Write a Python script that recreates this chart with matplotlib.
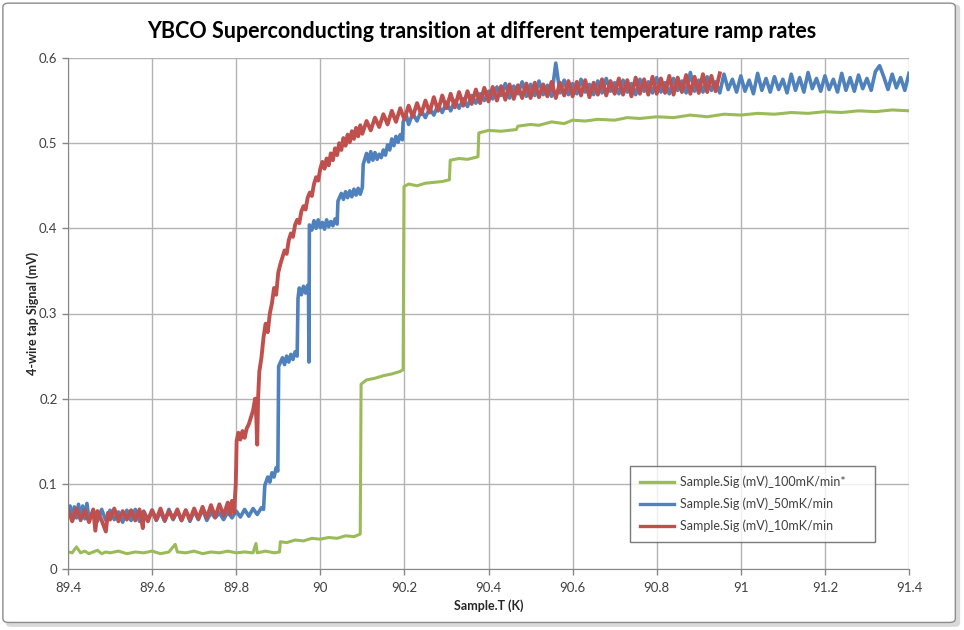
import matplotlib
matplotlib.use('Agg')
import matplotlib.pyplot as plt
from matplotlib.patches import FancyBboxPatch

plt.rcParams['font.family'] = ['Lato', 'DejaVu Sans']

# --- data (temperature in K, signal in mV) ---
green_T = [89.40, 89.41, 89.42, 89.43, 89.44, 89.45, 89.46, 89.47, 89.48, 89.49, 89.50,
           89.52, 89.54, 89.56, 89.58, 89.60, 89.62, 89.64, 89.655, 89.66, 89.68, 89.70,
           89.72, 89.74, 89.76, 89.78, 89.80, 89.82, 89.84, 89.847, 89.85, 89.87, 89.89, 89.903,
           89.905, 89.92, 89.94, 89.96, 89.98, 90.00, 90.02, 90.04, 90.06, 90.08, 90.095,
           90.097, 90.11, 90.13, 90.15, 90.17, 90.19, 90.197,
           90.199, 90.21, 90.23, 90.25, 90.27, 90.29, 90.307,
           90.309, 90.33, 90.35, 90.375,
           90.377, 90.40, 90.43, 90.466,
           90.47, 90.50, 90.52, 90.55, 90.58, 90.60, 90.63, 90.66, 90.70, 90.73, 90.76, 90.80,
           90.84, 90.88, 90.92, 90.96, 91.00, 91.04, 91.08, 91.12, 91.16, 91.20, 91.24, 91.28,
           91.32, 91.36, 91.40]
green_sig = [0.020, 0.019, 0.026, 0.019, 0.021, 0.018, 0.020, 0.022, 0.018, 0.020, 0.019,
             0.021, 0.018, 0.020, 0.019, 0.021, 0.018, 0.020, 0.029, 0.020, 0.019, 0.021,
             0.018, 0.020, 0.019, 0.021, 0.019, 0.020, 0.019, 0.030, 0.019, 0.021, 0.019, 0.020,
             0.032, 0.031, 0.034, 0.033, 0.036, 0.035, 0.037, 0.036, 0.039, 0.038, 0.041,
             0.217, 0.222, 0.224, 0.227, 0.229, 0.232, 0.234,
             0.449, 0.452, 0.450, 0.453, 0.454, 0.455, 0.457,
             0.480, 0.482, 0.481, 0.484,
             0.512, 0.515, 0.514, 0.516,
             0.520, 0.522, 0.521, 0.525, 0.523, 0.527, 0.526, 0.528, 0.527, 0.530, 0.529, 0.531,
             0.530, 0.533, 0.531, 0.534, 0.533, 0.535, 0.534, 0.536, 0.535, 0.537, 0.536, 0.538,
             0.537, 0.539, 0.538]

blue_T = [89.40, 89.405, 89.41, 89.415, 89.42, 89.425, 89.43, 89.435, 89.44, 89.445, 89.45,
          89.46, 89.47, 89.48, 89.49, 89.50, 89.51, 89.52, 89.53, 89.54, 89.55, 89.56, 89.57,
          89.58, 89.59, 89.60, 89.61, 89.62, 89.63, 89.64, 89.65, 89.66, 89.67, 89.68, 89.69,
          89.70, 89.71, 89.72, 89.73, 89.74,
          89.75, 89.76, 89.77, 89.78, 89.79, 89.80, 89.81, 89.82, 89.83, 89.84, 89.85, 89.86, 89.865,
          89.868, 89.875, 89.88, 89.885, 89.89, 89.895, 89.899,
          89.901, 89.91, 89.915, 89.92, 89.925, 89.93, 89.935, 89.94, 89.945,
          89.947, 89.95, 89.955, 89.96, 89.965, 89.97, 89.972, 89.973,
          89.974, 89.98, 89.985, 89.99, 89.995, 90.00, 90.005, 90.01, 90.015, 90.02, 90.025,
          90.03, 90.035, 90.04,
          90.042, 90.05, 90.055, 90.06, 90.065, 90.07, 90.075, 90.08, 90.085, 90.09, 90.095, 90.10,
          90.102, 90.11, 90.115, 90.12, 90.125, 90.13, 90.135, 90.14, 90.145, 90.15, 90.155,
          90.16, 90.165, 90.17, 90.175, 90.18, 90.185, 90.19, 90.195,
          90.197, 90.205, 90.21, 90.22, 90.23, 90.24, 90.25, 90.26, 90.27, 90.28, 90.29, 90.30,
          90.31, 90.32, 90.33, 90.34, 90.35, 90.36, 90.37, 90.38, 90.39,
          90.40, 90.41, 90.42, 90.43, 90.44, 90.45, 90.46, 90.47, 90.48, 90.49,
          90.50, 90.51, 90.52, 90.53, 90.54, 90.55, 90.56, 90.57, 90.58, 90.59,
          90.60, 90.61, 90.62, 90.63, 90.64, 90.65, 90.66, 90.67, 90.68, 90.69,
          90.70, 90.71, 90.72, 90.73, 90.74, 90.75, 90.76, 90.77, 90.78, 90.79,
          90.80, 90.81, 90.82, 90.83, 90.84, 90.85, 90.86, 90.87, 90.88, 90.89,
          90.90, 90.91, 90.92, 90.93, 90.94, 90.95, 90.96, 90.97, 90.98, 90.99,
          91.00, 91.01, 91.02, 91.03, 91.04, 91.05, 91.06, 91.07, 91.08, 91.09,
          91.10, 91.11, 91.12, 91.13, 91.14, 91.15, 91.16, 91.17, 91.18, 91.19,
          91.20, 91.21, 91.22, 91.23, 91.24, 91.25, 91.26, 91.27, 91.28, 91.29,
          91.30, 91.31, 91.32, 91.33, 91.34, 91.35, 91.36, 91.37, 91.38, 91.39,
          91.40]
blue_sig = [0.062, 0.074, 0.058, 0.073, 0.060, 0.076, 0.057, 0.074, 0.059, 0.077, 0.058,
            0.068, 0.056, 0.070, 0.057, 0.069, 0.058, 0.067, 0.055, 0.069, 0.057, 0.070, 0.056,
            0.068, 0.058, 0.069, 0.057, 0.067, 0.056, 0.070, 0.058, 0.068, 0.057, 0.069, 0.056,
            0.068, 0.058, 0.070, 0.057, 0.066,
            0.060, 0.066, 0.058, 0.067, 0.060, 0.068, 0.061, 0.070, 0.062, 0.071, 0.064, 0.072, 0.070,
            0.098, 0.108, 0.102, 0.113, 0.108, 0.119, 0.115,
            0.238, 0.248, 0.240, 0.250, 0.243, 0.252, 0.246, 0.255, 0.250,
            0.318, 0.330, 0.322, 0.332, 0.324, 0.333, 0.326, 0.243,
            0.404, 0.398, 0.409, 0.400, 0.410, 0.401, 0.407, 0.399, 0.410, 0.402, 0.408,
            0.403, 0.411, 0.405,
            0.432, 0.441, 0.434, 0.443, 0.436, 0.444, 0.437, 0.446, 0.439, 0.447, 0.440, 0.448,
            0.475, 0.488, 0.478, 0.490, 0.480, 0.489, 0.481, 0.487, 0.483, 0.492, 0.486,
            0.498, 0.492, 0.505, 0.497, 0.508, 0.501, 0.510, 0.504,
            0.525, 0.532, 0.522, 0.535, 0.526, 0.538, 0.530, 0.541, 0.533, 0.545, 0.536, 0.548,
            0.538, 0.550, 0.541, 0.552, 0.543, 0.556, 0.547, 0.558, 0.550,
            0.561, 0.552, 0.566, 0.556, 0.570, 0.553, 0.567, 0.558, 0.572, 0.555,
            0.569, 0.556, 0.573, 0.557, 0.568, 0.555, 0.594, 0.559, 0.574, 0.557,
            0.570, 0.558, 0.575, 0.560, 0.569, 0.557, 0.573, 0.559, 0.576, 0.561,
            0.571, 0.558, 0.574, 0.560, 0.570, 0.557, 0.575, 0.561, 0.572, 0.559,
            0.577, 0.560, 0.571, 0.558, 0.576, 0.562, 0.573, 0.559, 0.583, 0.561,
            0.574, 0.560, 0.578, 0.562, 0.572, 0.559, 0.581, 0.563, 0.575, 0.560,
            0.579, 0.561, 0.574, 0.558, 0.582, 0.562, 0.576, 0.560, 0.578, 0.563,
            0.575, 0.559, 0.581, 0.562, 0.577, 0.560, 0.583, 0.564, 0.576, 0.561,
            0.579, 0.563, 0.575, 0.560, 0.582, 0.562, 0.577, 0.561, 0.580, 0.564,
            0.576, 0.562, 0.584, 0.591, 0.578, 0.563, 0.581, 0.565, 0.577, 0.562,
            0.582]

red_T = [89.40, 89.41, 89.42, 89.43, 89.44, 89.45, 89.46,
         89.465, 89.47, 89.48, 89.49, 89.495, 89.50,
         89.51, 89.52, 89.53, 89.54, 89.55, 89.56, 89.57, 89.578, 89.58, 89.59,
         89.60, 89.61, 89.62, 89.63, 89.64, 89.65, 89.66, 89.67, 89.68, 89.69,
         89.70, 89.71, 89.72, 89.73, 89.74, 89.75, 89.76, 89.77, 89.78, 89.785, 89.79, 89.795, 89.799,
         89.801, 89.805, 89.81, 89.815, 89.82, 89.825, 89.83, 89.835, 89.84, 89.845, 89.848,
         89.85, 89.852, 89.855, 89.86, 89.865, 89.87, 89.875, 89.88, 89.885, 89.89, 89.895,
         89.90, 89.905, 89.91, 89.915, 89.92, 89.925, 89.93, 89.935, 89.94, 89.945, 89.95,
         89.955, 89.96, 89.965, 89.97, 89.975, 89.98, 89.985, 89.99, 89.995, 90.00,
         90.005, 90.01, 90.015, 90.02, 90.025, 90.03, 90.035, 90.04, 90.045, 90.05,
         90.055, 90.06, 90.065, 90.07, 90.075, 90.08, 90.085, 90.09, 90.095, 90.10,
         90.11, 90.12, 90.13, 90.14, 90.15, 90.16, 90.17, 90.18, 90.19, 90.20,
         90.21, 90.22, 90.23, 90.24, 90.25, 90.26, 90.27, 90.28, 90.29, 90.30,
         90.31, 90.32, 90.33, 90.34, 90.35, 90.36, 90.37, 90.38, 90.39, 90.40,
         90.41, 90.42, 90.43, 90.44, 90.45, 90.46, 90.47, 90.48, 90.49, 90.50,
         90.51, 90.52, 90.53, 90.54, 90.55, 90.56, 90.57, 90.58, 90.59, 90.60,
         90.61, 90.62, 90.63, 90.64, 90.65, 90.66, 90.67, 90.68, 90.69, 90.70,
         90.71, 90.72, 90.73, 90.74, 90.75, 90.76, 90.77, 90.78, 90.79, 90.80,
         90.81, 90.82, 90.83, 90.84, 90.85, 90.86, 90.87, 90.88, 90.89, 90.90,
         90.91, 90.92, 90.93, 90.94, 90.95]
red_sig = [0.070, 0.056, 0.071, 0.058, 0.069, 0.055, 0.070,
           0.045, 0.068, 0.057, 0.044, 0.066, 0.058,
           0.071, 0.056, 0.068, 0.058, 0.069, 0.057, 0.070, 0.048, 0.067, 0.056,
           0.069, 0.058, 0.071, 0.057, 0.068, 0.059, 0.070, 0.057, 0.069, 0.058,
           0.071, 0.059, 0.073, 0.060, 0.075, 0.061, 0.076, 0.063, 0.078, 0.064, 0.080, 0.066, 0.100,
           0.150, 0.160, 0.152, 0.162, 0.154, 0.165, 0.170, 0.178, 0.186, 0.200, 0.175,
           0.146, 0.200, 0.232, 0.248, 0.272, 0.288, 0.278, 0.300, 0.312, 0.330, 0.322,
           0.348, 0.358, 0.366, 0.374, 0.370, 0.386, 0.394, 0.390, 0.404, 0.410, 0.406,
           0.420, 0.426, 0.422, 0.436, 0.442, 0.438, 0.452, 0.460, 0.456, 0.470,
           0.478, 0.470, 0.482, 0.474, 0.488, 0.480, 0.494, 0.486, 0.500, 0.492,
           0.506, 0.497, 0.510, 0.501, 0.514, 0.505, 0.518, 0.508, 0.521, 0.511,
           0.526, 0.515, 0.530, 0.519, 0.534, 0.522, 0.538, 0.525, 0.541, 0.528,
           0.544, 0.531, 0.547, 0.534, 0.550, 0.536, 0.554, 0.538, 0.556, 0.541,
           0.558, 0.542, 0.560, 0.544, 0.561, 0.546, 0.563, 0.547, 0.565, 0.549,
           0.566, 0.550, 0.567, 0.551, 0.569, 0.552, 0.568, 0.553, 0.570, 0.553,
           0.571, 0.554, 0.569, 0.555, 0.572, 0.553, 0.571, 0.556, 0.573, 0.555,
           0.572, 0.556, 0.574, 0.554, 0.571, 0.557, 0.575, 0.556, 0.573, 0.558,
           0.576, 0.557, 0.574, 0.555, 0.577, 0.558, 0.575, 0.557, 0.578, 0.558,
           0.576, 0.559, 0.579, 0.557, 0.577, 0.560, 0.580, 0.558, 0.578, 0.559,
           0.581, 0.560, 0.579, 0.561, 0.582]

labels = ['Sample.Sig (mV)_100mK/min*', 'Sample.Sig (mV)_50mK/min', 'Sample.Sig (mV)_10mK/min']
colors = ['#9BBB59', '#4F81BD', '#C0504D']
widths = [2.2, 2.6, 2.8]

x_ticks = [89.4, 89.6, 89.8, 90, 90.2, 90.4, 90.6, 90.8, 91, 91.2, 91.4]
x_ticklabels = ['89.4', '89.6', '89.8', '90', '90.2', '90.4', '90.6', '90.8', '91', '91.2', '91.4']
y_ticks = [0, 0.1, 0.2, 0.3, 0.4, 0.5, 0.6]
y_ticklabels = ['0', '0.1', '0.2', '0.3', '0.4', '0.5', '0.6']

fig = plt.figure(figsize=(9.64, 6.3), dpi=100)

# chart frame with shadow, like the Excel chart area
shadow = FancyBboxPatch((0.006, 0.005), 0.990, 0.988, boxstyle='round,pad=0,rounding_size=0.006',
                        transform=fig.transFigure, facecolor='#d9d9d9', edgecolor='none', zorder=-3)
frame = FancyBboxPatch((0.003, 0.012), 0.988, 0.983, boxstyle='round,pad=0,rounding_size=0.006',
                       transform=fig.transFigure, facecolor='white', edgecolor='#8c8c8c',
                       linewidth=1.0, zorder=-2)
fig.patches.extend([shadow, frame])

ax = fig.add_axes([68 / 964, 1 - 569 / 630, 841 / 964, 511 / 630])
ax.set_facecolor('white')

series = [(green_T, green_sig), (blue_T, blue_sig), (red_T, red_sig)]
for (t, s), lab, c, w in zip(series, labels, colors, widths):
    assert len(t) == len(s), lab
    ax.plot(t, s, color=c, lw=w, label=lab)

ax.set_xlim(89.4, 91.4)
ax.set_ylim(0, 0.6)
ax.set_xticks(x_ticks)
ax.set_xticklabels(x_ticklabels)
ax.set_yticks(y_ticks)
ax.set_yticklabels(y_ticklabels)
ax.grid(True, color='#b3b3b3', lw=1.0)
ax.set_axisbelow(True)
for side in ['top', 'right']:
    ax.spines[side].set_visible(False)
for side in ['left', 'bottom']:
    ax.spines[side].set_color('#868686')
ax.tick_params(axis='both', colors='#868686', labelcolor='#404040', labelsize=9.5,
               length=4, width=1, direction='out')
ax.tick_params(axis='x', pad=5)

ax.set_xlabel('Sample.T (K)', fontsize=9, fontweight='bold', color='#262626', labelpad=4)
ax.set_ylabel('4-wire tap Signal (mV)', fontsize=9, fontweight='bold', color='#262626', labelpad=0)
fig.text(0.5, 1 - 31 / 630, 'YBCO Superconducting transition at different temperature ramp rates',
         ha='center', va='center', fontsize=15.5, fontweight='bold', color='#000000')

leg = ax.legend(loc='lower left', bbox_to_anchor=(0.668, 0.053, 0.291, 0.141), mode='expand',
                borderaxespad=0, fontsize=9, frameon=True, fancybox=False, handlelength=2.7,
                borderpad=0.8, labelspacing=0.75, handletextpad=0.5)
leg.get_frame().set_edgecolor('#595959')
leg.get_frame().set_linewidth(1.0)
for line in leg.get_lines():
    line.set_linewidth(2.4)
for txt in leg.get_texts():
    txt.set_color('#404040')

fig.savefig('out.png', dpi=100)
